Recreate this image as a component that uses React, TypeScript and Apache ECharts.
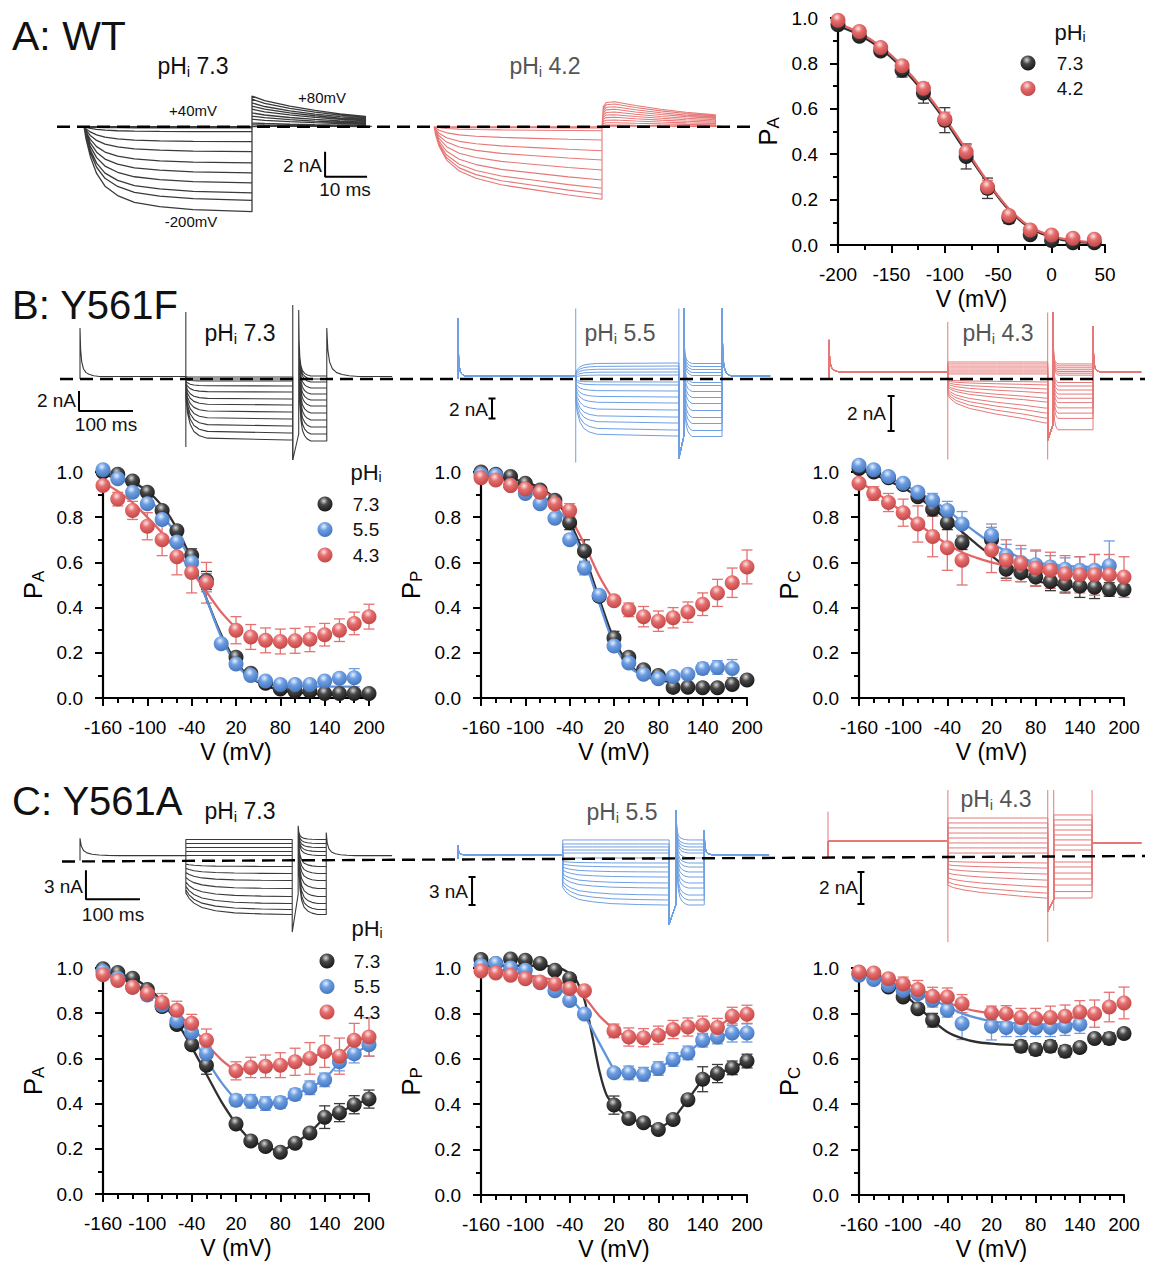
import React, { useEffect, useRef } from "react";
import * as echarts from "echarts";

const FONT = "'Liberation Sans', Arial, Helvetica, sans-serif";

// ---------------- colours ----------------
const COL: any = {
  black: { line: "#2f2f2f", err: "#3a3a3a", trace: "#3a3a3a", hi: "#d8d8d8", mid: "#474747", lo: "#161616" },
  blue: { line: "#5f93da", err: "#6c9de0", trace: "#6fa0e2", hi: "#e8f0fd", mid: "#6d9ee2", lo: "#4473bb" },
  red: { line: "#e36464", err: "#e47272", trace: "#e67878", hi: "#fde4e4", mid: "#e56e6e", lo: "#c24545" },
};

// ---------------- Panel A (WT) ----------------
const A_V = [-200, -180, -160, -140, -120, -100, -80, -60, -40, -20, 0, 20, 40];
const A_PA_73 = [0.97, 0.92, 0.855, 0.77, 0.67, 0.55, 0.39, 0.25, 0.12, 0.045, 0.02, 0.01, 0.01];
const A_PA_73_E = [0.01, 0.015, 0.02, 0.03, 0.045, 0.055, 0.055, 0.045, 0.025, 0.01, 0.01, 0.01, 0.01];
const A_PA_42 = [0.99, 0.94, 0.87, 0.79, 0.69, 0.555, 0.41, 0.255, 0.13, 0.066, 0.044, 0.03, 0.025];
const A_PA_42_E = [0.01, 0.01, 0.015, 0.02, 0.025, 0.03, 0.03, 0.03, 0.02, 0.01, 0.01, 0.01, 0.01];
const A_FIT_73 = [0.965, 0.925, 0.865, 0.78, 0.675, 0.55, 0.41, 0.275, 0.155, 0.075, 0.035, 0.015, 0.01];
const A_FIT_42 = [0.975, 0.935, 0.875, 0.79, 0.685, 0.56, 0.42, 0.28, 0.16, 0.08, 0.04, 0.02, 0.012];

// ---------------- B / C voltage grid ----------------
const V19 = [-160, -140, -120, -100, -80, -60, -40, -20, 0, 20, 40, 60, 80, 100, 120, 140, 160, 180, 200];

// B: Y561F  PA
const BPA_73 = [1.0, 0.99, 0.96, 0.91, 0.83, 0.74, 0.63, 0.52, null, 0.18, 0.11, 0.065, 0.04, 0.03, 0.03, 0.02, 0.02, 0.02, 0.02];
const BPA_73_E = [0.01, 0.01, 0.01, 0.01, 0.015, 0.02, 0.03, 0.04, null, 0.02, 0.015, 0.01, 0.01, 0.01, 0.01, 0.01, 0.01, 0.01, 0.01];
const BPA_55 = [1.01, 0.97, 0.91, 0.86, 0.79, 0.69, 0.6, 0.51, 0.24, 0.15, 0.1, 0.075, 0.06, 0.06, 0.06, 0.075, 0.087, 0.09, null];
const BPA_55_E = [0.01, 0.01, 0.01, 0.02, 0.02, 0.02, 0.03, 0.04, 0.01, 0.02, 0.015, 0.01, 0.01, 0.01, 0.01, 0.015, 0.02, 0.04, null];
const BPA_43 = [0.94, 0.88, 0.83, 0.76, 0.7, 0.625, 0.555, 0.51, null, 0.3, 0.27, 0.255, 0.25, 0.253, 0.26, 0.28, 0.3, 0.33, 0.36];
const BPA_43_E = [0.01, 0.03, 0.04, 0.06, 0.07, 0.08, 0.09, 0.09, null, 0.06, 0.055, 0.055, 0.055, 0.055, 0.055, 0.05, 0.05, 0.05, 0.055];
const BPA_FIT_73 = [0.985, 0.975, 0.955, 0.915, 0.85, 0.75, 0.61, 0.44, 0.28, 0.16, 0.09, 0.055, 0.035, 0.025, 0.02, 0.015, 0.012, 0.01, 0.01];
const BPA_FIT_55 = [0.995, 0.975, 0.94, 0.89, 0.81, 0.72, 0.6, 0.44, 0.27, 0.15, 0.09, 0.065, 0.055, 0.052, 0.05, 0.05, 0.05, 0.05];
const BPA_FIT_43 = [0.955, 0.915, 0.865, 0.8, 0.73, 0.65, 0.56, 0.47, 0.38, 0.31];

// B PP
const BPP_73 = [1.0, 0.99, 0.98, 0.95, 0.92, 0.875, 0.775, 0.65, 0.45, 0.265, 0.18, 0.125, 0.1, 0.047, 0.048, 0.045, 0.045, 0.06, 0.08];
const BPP_73_E = [0.01, 0.01, 0.01, 0.01, 0.01, 0.015, 0.03, 0.05, 0.02, 0.03, 0.02, 0.015, 0.01, 0.01, 0.01, 0.01, 0.01, 0.01, 0.01];
const BPP_55 = [0.99, 0.985, 0.94, 0.905, 0.86, 0.795, 0.7, 0.575, 0.455, 0.23, 0.155, 0.105, 0.085, 0.095, 0.105, 0.13, 0.135, 0.13, null];
const BPP_55_E = [0.01, 0.01, 0.01, 0.01, 0.01, 0.01, 0.02, 0.03, 0.02, 0.02, 0.02, 0.015, 0.015, 0.015, 0.015, 0.025, 0.03, 0.04, null];
const BPP_43 = [0.975, 0.965, 0.94, 0.925, 0.91, 0.86, 0.83, null, null, 0.43, 0.39, 0.36, 0.34, 0.355, 0.38, 0.415, 0.465, 0.51, 0.58];
const BPP_43_E = [0.01, 0.01, 0.01, 0.01, 0.01, 0.02, 0.03, null, null, 0.02, 0.03, 0.045, 0.045, 0.045, 0.045, 0.05, 0.06, 0.065, 0.075];
const BPP_FIT_73 = [0.985, 0.98, 0.97, 0.955, 0.93, 0.88, 0.78, 0.63, 0.44, 0.26, 0.15, 0.1, 0.08, 0.07];
const BPP_FIT_55 = [0.98, 0.97, 0.955, 0.935, 0.9, 0.85, 0.76, 0.61, 0.42, 0.24, 0.14, 0.1, 0.085, 0.08];
const BPP_FIT_43 = [0.975, 0.97, 0.96, 0.945, 0.92, 0.88, 0.8, 0.68, 0.54, 0.43];

// B PC
const BPC_73 = [1.015, 1.0, 0.975, 0.945, 0.89, 0.835, 0.775, 0.687, null, 0.7, 0.57, 0.555, 0.535, 0.515, 0.505, 0.495, 0.49, 0.48, 0.48];
const BPC_73_E = [0.01, 0.01, 0.01, 0.015, 0.02, 0.03, 0.03, 0.03, null, 0.04, 0.04, 0.04, 0.04, 0.04, 0.04, 0.05, 0.05, 0.03, 0.02];
const BPC_55 = [1.03, 1.01, 0.98, 0.95, 0.91, 0.875, 0.83, 0.77, null, 0.72, 0.63, 0.6, 0.59, 0.58, 0.57, 0.565, 0.565, 0.585, null];
const BPC_55_E = [0.01, 0.01, 0.01, 0.015, 0.02, 0.03, 0.04, 0.055, null, 0.05, 0.05, 0.06, 0.06, 0.05, 0.05, 0.06, 0.07, 0.11, null];
const BPC_43 = [0.95, 0.905, 0.865, 0.82, 0.77, 0.715, 0.665, 0.61, null, 0.655, 0.61, 0.595, 0.575, 0.565, 0.55, 0.545, 0.545, 0.545, 0.535];
const BPC_43_E = [0.01, 0.03, 0.04, 0.06, 0.08, 0.09, 0.1, 0.11, null, 0.1, 0.09, 0.08, 0.08, 0.08, 0.08, 0.08, 0.09, 0.09, 0.09];
const BPC_FIT_73 = [1.01, 0.99, 0.96, 0.93, 0.89, 0.84, 0.79, 0.735, 0.68, 0.63, 0.58, 0.55, 0.52, 0.505, 0.495, 0.49, 0.485, 0.482, 0.48];
const BPC_FIT_55 = [1.01, 0.995, 0.97, 0.945, 0.91, 0.875, 0.83, 0.78, 0.73, 0.685, 0.65, 0.62, 0.6, 0.59, 0.585, 0.582, 0.58, 0.58];
const BPC_FIT_43 = [0.96, 0.915, 0.87, 0.82, 0.77, 0.725, 0.68, 0.645, 0.62, 0.6, 0.585, 0.57, 0.56, 0.555, 0.55, 0.547, 0.545, 0.543, 0.54];

// C: Y561A  PA
const CPA_73 = [0.997, 0.98, 0.955, 0.905, 0.83, 0.75, 0.66, 0.57, null, 0.31, 0.235, 0.21, 0.185, 0.225, 0.27, 0.34, 0.36, 0.395, 0.42];
const CPA_73_E = [0.01, 0.01, 0.01, 0.01, 0.02, 0.02, 0.02, 0.04, null, 0.02, 0.02, 0.015, 0.015, 0.015, 0.02, 0.05, 0.04, 0.04, 0.04];
const CPA_55 = [0.985, 0.955, 0.915, 0.88, 0.835, 0.765, 0.715, 0.62, null, 0.415, 0.41, 0.4, 0.405, 0.44, 0.47, 0.505, 0.585, 0.62, 0.66];
const CPA_55_E = [0.01, 0.01, 0.02, 0.02, 0.02, 0.02, 0.02, 0.03, null, 0.025, 0.03, 0.03, 0.025, 0.025, 0.03, 0.03, 0.04, 0.04, 0.05];
const CPA_43 = [0.97, 0.945, 0.915, 0.887, 0.847, 0.813, 0.755, 0.68, null, 0.545, 0.56, 0.565, 0.57, 0.585, 0.6, 0.63, 0.61, 0.68, 0.695];
const CPA_43_E = [0.01, 0.01, 0.02, 0.03, 0.04, 0.04, 0.04, 0.05, null, 0.04, 0.045, 0.05, 0.055, 0.06, 0.07, 0.07, 0.08, 0.075, 0.085];
const CPA_FIT_73 = [0.985, 0.975, 0.955, 0.915, 0.85, 0.76, 0.65, 0.53, 0.41, 0.31];
const CPA_FIT_55 = [0.975, 0.96, 0.935, 0.895, 0.845, 0.78, 0.695, 0.595, 0.495, 0.415];
const CPA_FIT_43 = [0.97, 0.955, 0.93, 0.895, 0.85, 0.8, 0.74, 0.665, 0.595, 0.545];

// C PP
const CPP_73 = [1.037, 1.02, 1.04, 1.034, 1.02, 0.99, 0.953, null, null, 0.396, 0.337, 0.318, 0.289, 0.333, 0.42, 0.51, 0.535, 0.56, 0.59];
const CPP_73_E = [0.01, 0.01, 0.01, 0.01, 0.01, 0.01, 0.015, null, null, 0.04, 0.02, 0.02, 0.02, 0.02, 0.02, 0.055, 0.04, 0.03, 0.03];
const CPP_55 = [1.01, 1.02, 1.0, 0.99, 0.935, 0.9, 0.857, 0.797, null, 0.538, 0.538, 0.532, 0.557, 0.597, 0.626, 0.682, 0.696, 0.714, 0.714];
const CPP_55_E = [0.01, 0.01, 0.01, 0.01, 0.01, 0.01, 0.015, 0.02, null, 0.02, 0.03, 0.03, 0.03, 0.03, 0.03, 0.03, 0.03, 0.04, 0.04];
const CPP_43 = [0.987, 0.978, 0.968, 0.953, 0.938, 0.93, 0.91, 0.9, null, 0.723, 0.696, 0.693, 0.704, 0.729, 0.74, 0.748, 0.738, 0.787, 0.796];
const CPP_43_E = [0.01, 0.01, 0.01, 0.01, 0.01, 0.01, 0.015, 0.015, null, 0.03, 0.04, 0.04, 0.04, 0.04, 0.04, 0.04, 0.04, 0.04, 0.04];
const CPP_FIT_73_V = [-160, -120, -80, -60, -50, -40, -30, -20, -10, 0, 10, 20];
const CPP_FIT_73 = [1.01, 1.01, 1.01, 1.005, 0.995, 0.975, 0.94, 0.86, 0.71, 0.55, 0.44, 0.4];
const CPP_FIT_55 = [1.0, 0.995, 0.985, 0.97, 0.95, 0.92, 0.87, 0.79, 0.67, 0.55];
const CPP_FIT_43 = [1.0, 0.99, 0.98, 0.97, 0.96, 0.945, 0.92, 0.87, 0.79, 0.73];

// C PC
const CPC_73 = [0.975, 0.975, 0.916, 0.872, 0.821, 0.77, null, null, null, null, null, 0.655, 0.641, 0.655, 0.633, 0.65, 0.689, 0.689, 0.711];
const CPC_73_E = [0.01, 0.01, 0.01, 0.015, 0.02, 0.03, null, null, null, null, null, 0.025, 0.025, 0.025, 0.025, 0.02, 0.02, 0.025, 0.02];
const CPC_55 = [0.968, 0.949, 0.924, 0.902, 0.887, 0.858, 0.814, 0.755, null, 0.743, 0.738, 0.738, 0.738, 0.738, 0.743, 0.752, null, null, null];
const CPC_55_E = [0.01, 0.01, 0.015, 0.02, 0.02, 0.03, 0.03, 0.07, null, 0.06, 0.04, 0.04, 0.04, 0.04, 0.04, 0.04, null, null, null];
const CPC_43 = [0.982, 0.978, 0.953, 0.93, 0.905, 0.875, 0.872, 0.843, null, 0.802, 0.799, 0.782, 0.777, 0.782, 0.787, 0.806, 0.799, 0.828, 0.846];
const CPC_43_E = [0.01, 0.01, 0.02, 0.03, 0.04, 0.04, 0.04, 0.04, null, 0.03, 0.035, 0.04, 0.045, 0.05, 0.05, 0.05, 0.06, 0.065, 0.07];
const CPC_FIT_73 = [0.975, 0.96, 0.932, 0.887, 0.83, 0.77, 0.718, 0.69, 0.674, 0.667, 0.662, 0.66];
const CPC_FIT_55 = [0.975, 0.962, 0.942, 0.915, 0.885, 0.86, 0.83, 0.8, 0.78, 0.765, 0.758, 0.755, 0.753, 0.752, 0.752, 0.752];
const CPC_FIT_43 = [0.975, 0.968, 0.955, 0.935, 0.91, 0.88, 0.85, 0.825, 0.81, 0.8, 0.79, 0.785, 0.783, 0.782, 0.782, 0.782];

// ---------------- current traces (ms, nA) ----------------
const A73_LEVELS = [0, -0.1, -0.4, -1.2, -2.0, -2.9, -3.7, -4.5, -5.3, -5.9, -6.8];
const A73_TAILS = [0.05, 0.15, 0.3, 0.6, 0.85, 1.1, 1.4, 1.65, 1.9, 2.2, 2.45];
const A73_ON_T = [0, 0.5, 1.5, 3, 5, 8, 12, 18, 26, 40];
const A73_ON_F = [0, 0.15, 0.35, 0.55, 0.7, 0.81, 0.89, 0.94, 0.975, 1];
const A73_TAIL_T = [0, 3, 9, 15, 21, 27];
const A73_TAIL_F = [1, 0.85, 0.67, 0.53, 0.42, 0.34];

const A42_LEVELS = [0, -0.1, -0.32, -1.07, -1.92, -2.67, -3.47, -4.27, -4.93, -5.4, -5.81];
const A42_TAILS = [0.05, 0.13, 0.32, 0.53, 0.75, 0.96, 1.17, 1.39, 1.6, 1.81, 2.0];
const A42_ON_T = [0, 0.4, 1.2, 3, 6, 10, 16, 24, 32, 40];
const A42_ON_F = [0, 0.12, 0.27, 0.46, 0.61, 0.71, 0.8, 0.87, 0.94, 1];
const A42_TAIL_T = [0, 0.3, 1, 3, 8, 14, 20, 27];
const A42_TAIL_F = [0, 0.8, 0.97, 1, 0.85, 0.7, 0.58, 0.48];

const SPIKE_T = [0, 1.5, 4, 8, 14, 22, 32, 45];
const SPIKE_F = [1, 0.55, 0.3, 0.16, 0.08, 0.04, 0.015, 0];

const BF73_TIMES = [196, 394, 405, 457, 578];
const BF73_LEVELS = [0.2, 0, -0.2, -0.7, -1.3, -2.0, -2.6, -3.3, -4.0, -4.7, -5.4, -6.1];
const BF73_LEVELS2 = [0.3, 0, -0.3, -0.9, -1.5, -2.1, -2.7, -3.4, -4.1, -4.8, -5.5, -6.2];
const BF73_ON_T = [0, 3, 8, 15, 25, 40, 190];
const BF73_ON_F = [0.3, 0.55, 0.74, 0.86, 0.93, 0.97, 1];
const BF73_TRANS = [[196, 6.7, -6.8], [394, 7.4, -8.1]];
const BF55_TIMES = [218, 409, 418, 489, 578];
const BF55_LEVELS = [1.55, 1.25, 0.95, 0.65, 0.35, -0.35, -0.65, -1.25, -1.85, -2.45, -3.15, -3.85, -4.45, -5.15, -5.75];
const BF55_LEVELS2 = [1.5, 1.2, 0.9, 0.6, 0.3, -0.4, -0.7, -1.3, -1.9, -2.5, -3.2, -3.9, -4.5, -5.2, -5.8];
const BF55_ON_T = [0, 3, 8, 15, 25, 40, 180];
const BF55_ON_F = [0.4, 0.6, 0.76, 0.87, 0.93, 0.97, 1];
const BF55_TRANS = [[218, 7.0, -8.4], [409, 7.0, -8.0]];
const BF43_TIMES = [220, 405, 415, 489, 578];
const BF43_LEVELS = [0.97, 0.86, 0.74, 0.63, 0.51, 0.4, 0.29, -0.17, -0.34, -0.57, -0.8, -1.09, -1.31, -1.66, -1.94, -2.23, -2.51];
const BF43_LEVELS2 = [0.86, 0.75, 0.64, 0.53, 0.43, 0.33, 0.22, -0.2, -0.4, -0.63, -0.86, -1.1, -1.35, -1.65, -1.95, -2.25, -2.9];
const BF43_ON_T = [0, 5, 15, 40, 90, 140, 180];
const BF43_ON_F = [0.36, 0.45, 0.55, 0.67, 0.8, 0.9, 1];
const BF43_TRANS = [[220, 3.26, -4.6], [405, 3.8, -4.6]];
const CA73_TIMES = [196, 393, 404, 456, 578];
const CA73_LEVELS = [2.17, 1.76, 1.34, 0.93, 0.52, -0.62, -1.34, -2.07, -2.9, -3.72, -4.45, -5.07, -5.58];
const CA73_ON_T = [0, 6, 15, 30, 55, 90, 140, 190];
const CA73_ON_F = [0.6, 0.7, 0.79, 0.87, 0.93, 0.97, 0.99, 1];
const CA55_TIMES = [194, 391, 404, 456, 576];
const CA55_LEVELS = [2.04, 1.61, 1.29, 0.96, 0.64, 0.11, -0.43, -0.86, -1.39, -1.93, -2.57, -3.11, -3.86, -4.39, -4.93];
const CA55_ON_T = [0, 6, 15, 30, 55, 90, 140, 190];
const CA55_ON_F = [0.62, 0.72, 0.8, 0.88, 0.93, 0.97, 0.99, 1];
const CA43_TIMES = [222, 407, 418, 489, 580];
const CA43_LEVELS = [2.5, 2.19, 1.88, 1.56, 1.25, 0.94, 0.63, 0.31, -0.31, -0.63, -1.0, -1.38, -1.81, -2.19, -2.5];
const CA43_LEVELS2 = [2.69, 2.38, 2.06, 1.75, 1.44, 1.13, 0.81, 0.5, -0.25, -0.56, -0.94, -1.31, -1.69, -2.1, -2.5];
const CA43_ON_T = [0, 10, 30, 60, 100, 140, 180];
const CA43_ON_F = [0.68, 0.74, 0.8, 0.86, 0.91, 0.96, 1];
const CA43_TRANS = [[0, 2.9, 0], [222, 4.25, -5.25], [407, 4.25, -5.25], [418, 4.25, -3.3], [489, 4.25, 0.9]];

const SB_A = [[57.4, -2.0], [57.4, -4.0], [67.4, -4.0]];
const SB_BF73 = [[-1.85, -1.2], [-1.85, -3.2], [98.1, -3.2]];
const SB_BF55 = [63, -2.0, -4.0];
const SB_BF43 = [115, -0.97, -2.97];
const SB_CA73 = [[11, -1.0], [11, -4.0], [111, -4.0]];
const SB_CA55 = [26, -1.93, -4.93];
const SB_CA43 = [61, -0.875, -2.875];

// ---------------- helpers ----------------
const ballGrad = (c: any) =>
  new echarts.graphic.RadialGradient(0.42, 0.3, 0.72, [
    { offset: 0, color: c.hi },
    { offset: 0.38, color: c.mid },
    { offset: 1, color: c.lo },
  ]);

function buildA(levels: number[], tails: number[], onT: number[], onF: number[], tT: number[], tF: number[], tOff: number) {
  const d: any[] = [];
  levels.forEach((L, i) => {
    onT.forEach((t, k) => d.push([t, L * onF[k]]));
    tT.forEach((t, k) => d.push([tOff + t, tails[i] * tF[k]]));
    const tEnd = tOff + tT[tT.length - 1];
    d.push([tEnd, 0.03]);
    d.push([tEnd + 1.5, 0.03]);
    d.push([NaN, NaN]);
  });
  return d;
}

function buildBC(p: any) {
  const d: any[] = [];
  const [tOn, tOff, tStepOff, tB2Off, tEnd] = p.times;
  const holdEnd = p.holdEnd != null ? p.holdEnd : p.hold;
  p.levels.forEach((L: number, i: number) => {
    const L2 = p.levels2[i];
    d.push([p.pre, 0]);
    d.push([0, 0]);
    if (p.spike1 != null) SPIKE_T.forEach((t, k) => d.push([t * p.k1, p.hold + (p.spike1 - p.hold) * SPIKE_F[k]]));
    else d.push([0, p.hold]);
    d.push([tOn, p.hold]);
    const on = L < 0 || p.posOnset;
    p.onT.forEach((t: number, k: number) => d.push([tOn + t, on ? L * p.onF[k] : L]));
    d.push([tOff, L]);
    d.push([tOff, p.step[0]]);
    d.push([tStepOff, p.step[1]]);
    if (p.s2 != null) SPIKE_T.forEach((t, k) => d.push([tStepOff + t * p.k2, L2 + (p.s2 - L2) * SPIKE_F[k]]));
    else d.push([tStepOff, L2]);
    d.push([tB2Off, L2]);
    if (p.s3 != null) SPIKE_T.forEach((t, k) => d.push([tB2Off + t * p.k3, holdEnd + (p.s3 - holdEnd) * SPIKE_F[k]]));
    else d.push([tB2Off, holdEnd]);
    d.push([tEnd, holdEnd]);
    d.push([NaN, NaN]);
  });
  return d;
}

function transData(tr: number[][]) {
  const d: any[] = [];
  tr.forEach((r) => { d.push([r[0], r[1]]); d.push([r[0], r[2]]); d.push([NaN, NaN]); });
  return d;
}
function ibeam(sb: number[], half: number) {
  const [t, a, b] = sb;
  return [[t, a], [t, b], [NaN, NaN], [t - half, a], [t + half, a], [NaN, NaN], [t - half, b], [t + half, b]];
}

const T = (x: number, y: number, text: string, size: number, align = "left", color = "#111") => ({
  type: "text", x, y, silent: true, z: 100,
  style: { text, fontSize: size, fontFamily: FONT, fill: color, align, verticalAlign: "middle" },
});
const PH = (x: number, y: number, rest: string, size: number, color = "#111") => ({
  type: "text", x, y, silent: true, z: 100,
  style: {
    text: `{a|pH}{b|i}{a|${rest}}`, align: "center", verticalAlign: "middle",
    rich: {
      a: { fontSize: size, fontFamily: FONT, fill: color, lineHeight: size + 2 },
      b: { fontSize: Math.round(size * 0.64), fontFamily: FONT, fill: color, lineHeight: Math.round(size * 0.64), verticalAlign: "bottom" },
    },
  },
});

export default function App() {
  const ref = useRef<HTMLDivElement>(null);
  useEffect(() => {
    if (!ref.current) return;
    const chart = echarts.init(ref.current, null, { renderer: "svg" });
    const grid: any[] = [], xAxis: any[] = [], yAxis: any[] = [], series: any[] = [];

    const axBase = {
      axisLine: { show: true, onZero: false, lineStyle: { color: "#000", width: 2.2 } },
      axisTick: { show: true, inside: false, length: 8, lineStyle: { color: "#000", width: 2 } },
      splitLine: { show: false },
      minorSplitLine: { show: false },
    };

    function addPlot(rect: any, xr: any, yName: string, groups: any[]) {
      const gi = grid.length;
      grid.push({ ...rect });
      xAxis.push({
        ...axBase, gridIndex: gi, type: "value", min: xr.min, max: xr.max, interval: xr.interval,
        minorTick: { show: true, splitNumber: xr.minor, length: 5, lineStyle: { color: "#000", width: 2 } },
        axisLabel: { color: "#000", fontSize: 19, fontFamily: FONT, margin: 20, hideOverlap: false },
        name: "V (mV)", nameLocation: "middle", nameGap: 42,
        nameTextStyle: { color: "#000", fontSize: 23, fontFamily: FONT },
      });
      yAxis.push({
        ...axBase, gridIndex: gi, type: "value", min: 0, max: 1, interval: 0.2,
        minorTick: { show: true, splitNumber: 2, length: 5, lineStyle: { color: "#000", width: 2 } },
        axisLabel: { color: "#000", fontSize: 19, fontFamily: FONT, margin: 20, formatter: (v: number) => v.toFixed(1) },
        name: `{p|P}{s|${yName}}`, nameLocation: "middle", nameGap: 56, nameRotate: 90,
        nameTextStyle: {
          rich: {
            p: { fontSize: 26, fontFamily: FONT, color: "#000", lineHeight: 28 },
            s: { fontSize: 17, fontFamily: FONT, color: "#000", lineHeight: 15, verticalAlign: "bottom" },
          },
        },
      });
      groups.forEach((g: any) => {
        const c = COL[g.color];
        const errData: any[] = [];
        g.v.forEach((v: number, i: number) => { if (g.y[i] != null) errData.push([v, g.y[i], g.e[i]]); });
        series.push({
          type: "custom", xAxisIndex: gi, yAxisIndex: gi, silent: true, z: 2,
          encode: { x: 0, y: 1 },
          data: errData,
          renderItem: (_p: any, api: any) => {
            const x = api.value(0), y = api.value(1), e = api.value(2);
            const a = api.coord([x, y + e]), b = api.coord([x, y - e]);
            const w = 5.5;
            const st = { stroke: c.err, lineWidth: 1.3 };
            return {
              type: "group",
              children: [
                { type: "line", shape: { x1: a[0], y1: a[1], x2: b[0], y2: b[1] }, style: st },
                { type: "line", shape: { x1: a[0] - w, y1: a[1], x2: a[0] + w, y2: a[1] }, style: st },
                { type: "line", shape: { x1: b[0] - w, y1: b[1], x2: b[0] + w, y2: b[1] }, style: st },
              ],
            };
          },
        });
        if (g.fit) {
          series.push({
            type: "line", xAxisIndex: gi, yAxisIndex: gi, silent: true, z: 3, clip: false,
            smooth: 0.35, symbol: "none", lineStyle: { color: c.line, width: 2.3 },
            data: g.fit.y.map((y: number, i: number) => [g.fit.v[i], y]),
          });
        }
        if (g.link != null) {
          const ld: any[] = [];
          g.v.forEach((v: number, i: number) => { if (v >= g.link && g.y[i] != null) ld.push([v, g.y[i]]); });
          series.push({
            type: "line", xAxisIndex: gi, yAxisIndex: gi, silent: true, z: 3, clip: false,
            symbol: "none", lineStyle: { color: c.line, width: 2.3 }, data: ld,
          });
        }
        const sd: any[] = [];
        g.v.forEach((v: number, i: number) => { if (g.y[i] != null) sd.push([v, g.y[i]]); });
        series.push({
          type: "scatter", xAxisIndex: gi, yAxisIndex: gi, silent: true, z: 4, clip: false,
          symbol: "circle", symbolSize: 15, itemStyle: { color: ballGrad(c), opacity: 1 }, data: sd,
        });
      });
    }

    function addTraces(p: any, lines: any[]) {
      const gi = grid.length;
      grid.push({
        left: p.ox + p.t[0] * p.pxMs, width: (p.t[1] - p.t[0]) * p.pxMs,
        top: p.zy - p.i[1] * p.pxNa, height: (p.i[1] - p.i[0]) * p.pxNa,
      });
      xAxis.push({ gridIndex: gi, type: "value", min: p.t[0], max: p.t[1], show: false });
      yAxis.push({ gridIndex: gi, type: "value", min: p.i[0], max: p.i[1], show: false });
      lines.forEach((l: any) => {
        series.push({
          type: "line", xAxisIndex: gi, yAxisIndex: gi, silent: true, clip: false, z: l.z || 2,
          symbol: "none", connectNulls: false, lineStyle: { color: l.color, width: l.width || 1 },
          data: l.data,
        });
      });
    }

    function addDash(left: number, width: number, zy: number, y0: number, y1: number) {
      const gi = grid.length;
      grid.push({ left, width, top: zy - 10, height: 20 });
      xAxis.push({ gridIndex: gi, type: "value", min: 0, max: 1, show: false });
      yAxis.push({ gridIndex: gi, type: "value", min: -10, max: 10, show: false });
      series.push({
        type: "line", xAxisIndex: gi, yAxisIndex: gi, silent: true, clip: false, z: 6, symbol: "none",
        lineStyle: { color: "#000", width: 2.4, type: [13, 7] }, data: [[0, y0], [1, y1]],
      });
    }

    // ===== Row A traces =====
    const KB = COL.black.trace, KBL = COL.blue.trace, KR = COL.red.trace;
    addTraces({ ox: 84, pxMs: 4.2, zy: 126.7, pxNa: 12.5, t: [-2, 72], i: [-9, 3.5] }, [
      { color: KB, width: 1.3, data: buildA(A73_LEVELS, A73_TAILS, A73_ON_T, A73_ON_F, A73_TAIL_T, A73_TAIL_F, 40) },
      { color: "#000", width: 2, data: SB_A, z: 5 },
    ]);
    addTraces({ ox: 434, pxMs: 4.2, zy: 126.7, pxNa: 12.5, t: [-2, 72], i: [-9, 3.5] }, [
      { color: KR, width: 1.1, data: buildA(A42_LEVELS, A42_TAILS, A42_ON_T, A42_ON_F, A42_TAIL_T, A42_TAIL_F, 40) },
    ]);
    addDash(57, 700, 126.7, 0, 0);

    // ===== Row B traces =====
    addTraces({ ox: 80, pxMs: 0.54, zy: 379, pxNa: 10, t: [-10, 600], i: [-9, 7.5] }, [
      {
        color: KB, width: 1.1, data: buildBC({
          pre: 0, times: BF73_TIMES, hold: 0.25, spike1: 5.1, k1: 0.8, levels: BF73_LEVELS, levels2: BF73_LEVELS2,
          onT: BF73_ON_T, onF: BF73_ON_F, posOnset: false, step: [-8.1, -5.5], s2: 6.9, k2: 0.5, s3: 5.1, k3: 1.3,
        }),
      },
      { color: KB, width: 1.1, data: transData(BF73_TRANS) },
      { color: "#000", width: 2, data: SB_BF73, z: 5 },
    ]);
    addTraces({ ox: 458, pxMs: 0.54, zy: 378.5, pxNa: 10, t: [-10, 600], i: [-9, 7.5] }, [
      {
        color: KBL, width: 1, data: buildBC({
          pre: 0, times: BF55_TIMES, hold: 0.25, spike1: 6.05, k1: 0.3, levels: BF55_LEVELS, levels2: BF55_LEVELS2,
          onT: BF55_ON_T, onF: BF55_ON_F, posOnset: true, step: [-8.0, -5.8], s2: 7.0, k2: 0.35, s3: 7.0, k3: 0.4,
        }),
      },
      { color: KBL, width: 1, data: transData(BF55_TRANS) },
      { color: "#000", width: 2, data: ibeam(SB_BF55, 6.5), z: 5 },
    ]);
    addTraces({ ox: 829, pxMs: 0.54, zy: 379, pxNa: 17.5, t: [-20, 600], i: [-5.5, 4.5] }, [
      {
        color: KR, width: 1, data: buildBC({
          pre: -8, times: BF43_TIMES, hold: 0.4, spike1: 2.23, k1: 0.5, levels: BF43_LEVELS, levels2: BF43_LEVELS2,
          onT: BF43_ON_T, onF: BF43_ON_F, posOnset: false, step: [-3.5, -2.6], s2: 3.8, k2: 0.2, s3: 3.0, k3: 0.3,
        }),
      },
      { color: KR, width: 1, data: transData(BF43_TRANS) },
      { color: "#000", width: 2, data: ibeam(SB_BF43, 6.5), z: 5 },
    ]);
    addDash(60, 1085, 379, 0, 0);

    // ===== Row C traces =====
    addTraces({ ox: 80, pxMs: 0.54, zy: 860.5, pxNa: 9.67, t: [-10, 600], i: [-8.5, 5.5] }, [
      {
        color: KB, width: 1.1, data: buildBC({
          pre: 0, times: CA73_TIMES, hold: 0.5, spike1: 2.3, k1: 1.6, levels: CA73_LEVELS, levels2: CA73_LEVELS,
          onT: CA73_ON_T, onF: CA73_ON_F, posOnset: false, step: [-7.4, -3.5], s2: 3.6, k2: 0.8, s3: 2.9, k3: 1.2,
        }),
      },
      { color: "#000", width: 2, data: SB_CA73, z: 5 },
    ]);
    addTraces({ ox: 458, pxMs: 0.54, zy: 859, pxNa: 9.33, t: [-10, 600], i: [-9, 6.5] }, [
      {
        color: KBL, width: 1, data: buildBC({
          pre: 0, times: CA55_TIMES, hold: 0.43, spike1: 1.5, k1: 0.4, levels: CA55_LEVELS, levels2: CA55_LEVELS,
          onT: CA55_ON_T, onF: CA55_ON_F, posOnset: false, step: [-7.0, -4.8], s2: 5.25, k2: 0.5, s3: 3.1, k3: 0.4,
        }),
      },
      { color: "#000", width: 2, data: ibeam(SB_CA55, 6.5), z: 5 },
    ]);
    addTraces({ ox: 828, pxMs: 0.54, zy: 858, pxNa: 16, t: [-20, 600], i: [-6, 4.5] }, [
      {
        color: KR, width: 1, data: buildBC({
          pre: -11, times: CA43_TIMES, hold: 1.06, holdEnd: 0.94, spike1: null, levels: CA43_LEVELS, levels2: CA43_LEVELS2,
          onT: CA43_ON_T, onF: CA43_ON_F, posOnset: false, step: [-3.35, -2.6], s2: null, s3: null,
        }),
      },
      { color: KR, width: 1, data: transData(CA43_TRANS) },
      { color: "#000", width: 2, data: ibeam(SB_CA43, 6.5), z: 5 },
    ]);
    addDash(62, 1083, 860, -1.5, 4);

    // ===== plots =====
    const XA = { min: -200, max: 50, interval: 50, minor: 2 };
    const XB = { min: -160, max: 200, interval: 60, minor: 3 };
    const V10 = V19.slice(0, 10);
    addPlot({ left: 838, top: 18, width: 267, height: 227 }, XA, "A", [
      { color: "black", v: A_V, y: A_PA_73, e: A_PA_73_E, fit: { v: A_V, y: A_FIT_73 } },
      { color: "red", v: A_V, y: A_PA_42, e: A_PA_42_E, fit: { v: A_V, y: A_FIT_42 } },
    ]);
    addPlot({ left: 103, top: 472, width: 266, height: 226 }, XB, "A", [
      { color: "black", v: V19, y: BPA_73, e: BPA_73_E, fit: { v: V19, y: BPA_FIT_73 } },
      { color: "blue", v: V19, y: BPA_55, e: BPA_55_E, fit: { v: V19.slice(0, 18), y: BPA_FIT_55 } },
      { color: "red", v: V19, y: BPA_43, e: BPA_43_E, fit: { v: V10, y: BPA_FIT_43 } },
    ]);
    addPlot({ left: 481, top: 472, width: 266, height: 226 }, XB, "P", [
      { color: "black", v: V19, y: BPP_73, e: BPP_73_E, fit: { v: V19.slice(0, 14), y: BPP_FIT_73 } },
      { color: "blue", v: V19, y: BPP_55, e: BPP_55_E, fit: { v: V19.slice(0, 14), y: BPP_FIT_55 } },
      { color: "red", v: V19, y: BPP_43, e: BPP_43_E, fit: { v: V10, y: BPP_FIT_43 } },
    ]);
    addPlot({ left: 859, top: 472, width: 265, height: 226 }, XB, "C", [
      { color: "black", v: V19, y: BPC_73, e: BPC_73_E, fit: { v: V19, y: BPC_FIT_73 } },
      { color: "blue", v: V19, y: BPC_55, e: BPC_55_E, fit: { v: V19.slice(0, 18), y: BPC_FIT_55 } },
      { color: "red", v: V19, y: BPC_43, e: BPC_43_E, fit: { v: V19, y: BPC_FIT_43 } },
    ]);
    addPlot({ left: 103, top: 968, width: 266, height: 226 }, XB, "A", [
      { color: "black", v: V19, y: CPA_73, e: CPA_73_E, fit: { v: V10, y: CPA_FIT_73 }, link: 20 },
      { color: "blue", v: V19, y: CPA_55, e: CPA_55_E, fit: { v: V10, y: CPA_FIT_55 }, link: 20 },
      { color: "red", v: V19, y: CPA_43, e: CPA_43_E, fit: { v: V10, y: CPA_FIT_43 }, link: 20 },
    ]);
    addPlot({ left: 481, top: 968, width: 266, height: 227 }, XB, "P", [
      { color: "black", v: V19, y: CPP_73, e: CPP_73_E, fit: { v: CPP_FIT_73_V, y: CPP_FIT_73 }, link: 20 },
      { color: "blue", v: V19, y: CPP_55, e: CPP_55_E, fit: { v: V10, y: CPP_FIT_55 }, link: 20 },
      { color: "red", v: V19, y: CPP_43, e: CPP_43_E, fit: { v: V10, y: CPP_FIT_43 }, link: 20 },
    ]);
    addPlot({ left: 859, top: 968, width: 265, height: 227 }, XB, "C", [
      { color: "black", v: V19, y: CPC_73, e: CPC_73_E, fit: { v: V19.slice(0, 12), y: CPC_FIT_73 } },
      { color: "blue", v: V19, y: CPC_55, e: CPC_55_E, fit: { v: V19.slice(0, 16), y: CPC_FIT_55 } },
      { color: "red", v: V19, y: CPC_43, e: CPC_43_E, fit: { v: V19.slice(0, 16), y: CPC_FIT_43 } },
    ]);

    // ===== texts & legends =====
    const ball = (cx: number, cy: number, c: any) => ({
      type: "circle", silent: true, z: 100, shape: { cx, cy, r: 7.5 }, style: { fill: ballGrad(c) },
    });
    const legend = (bx: number, tx: number, y0: number, titleY: number, items: any[]) => {
      const out: any[] = [PH(tx, titleY, "", 22)];
      items.forEach((it, i) => {
        out.push(ball(bx, y0 + i * 25.5, COL[it[0]]));
        out.push(T(tx, y0 + i * 25.5, it[1], 19, "center"));
      });
      return out;
    };

    const graphic: any[] = [
      T(12, 36, "A: WT", 41), T(12, 305, "B: Y561F", 40), T(12, 801, "C: Y561A", 40),
      PH(193, 66, " 7.3", 23), PH(545, 66, " 4.2", 23, "#555"),
      T(193, 110, "+40mV", 15, "center"), T(322, 97, "+80mV", 15, "center"), T(191, 221, "-200mV", 15, "center"),
      T(322, 165, "2 nA", 19, "right"), T(345, 189, "10 ms", 19, "center"),
      PH(240, 333, " 7.3", 23), PH(620, 333, " 5.5", 23, "#555"), PH(998, 333, " 4.3", 23, "#555"),
      T(76, 400, "2 nA", 19, "right"), T(106, 424, "100 ms", 19, "center"),
      T(488, 409, "2 nA", 19, "right"), T(886, 413, "2 nA", 19, "right"),
      PH(240, 811, " 7.3", 23), PH(622, 812, " 5.5", 23, "#555"), PH(996, 799, " 4.3", 23, "#555"),
      T(83, 886, "3 nA", 19, "right"), T(113, 914, "100 ms", 19, "center"),
      T(468, 891, "3 nA", 19, "right"), T(858, 887, "2 nA", 19, "right"),
      ...legend(1028, 1070, 63, 32, [["black", "7.3"], ["red", "4.2"]]),
      ...legend(325, 366, 504, 472, [["black", "7.3"], ["blue", "5.5"], ["red", "4.3"]]),
      ...legend(327, 367, 961, 928, [["black", "7.3"], ["blue", "5.5"], ["red", "4.3"]]),
    ];

    chart.setOption({
      animation: false,
      backgroundColor: "#ffffff",
      textStyle: { fontFamily: FONT },
      grid, xAxis, yAxis, series, graphic,
    });
    return () => chart.dispose();
  }, []);
  return <div ref={ref} style={{ position: "absolute", left: 0, top: 0, width: 1157, height: 1263 }} />;
}
